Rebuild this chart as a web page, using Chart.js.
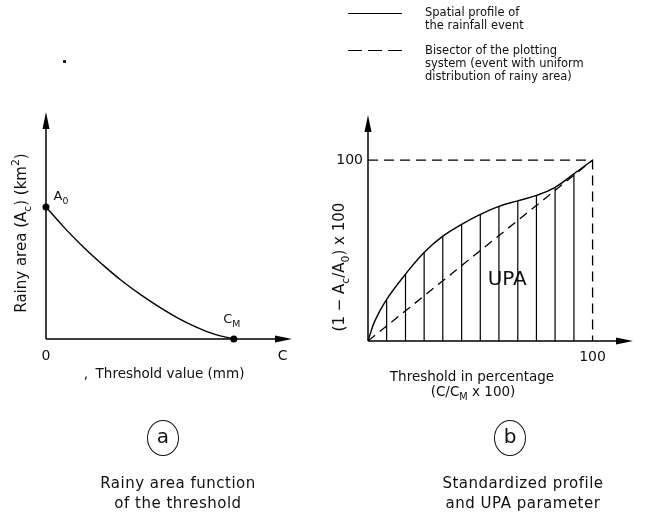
<!DOCTYPE html>
<html>
<head>
<meta charset="utf-8">
<script src="https://cdn.jsdelivr.net/npm/chart.js@4.4.1/dist/chart.umd.min.js"></script>
<style>
body { margin: 0; background: #fff; }
#wrap { position: relative; width: 646px; height: 525px; overflow: hidden; font-family: "DejaVu Sans", sans-serif; color: #111; }
canvas { position: absolute; top: 0; }
#rainy { left: 0; }
#upa { left: 320px; }
.lg { position: absolute; left: 425px; font-size: 11.5px; line-height: 13px; white-space: nowrap; }
.sample { position: absolute; left: 348px; width: 54px; height: 1.4px; }
.circ { position: absolute; width: 30px; height: 34px; border: 1.2px solid #111; border-radius: 50%; text-align: center; font-size: 20px; line-height: 31px; }
.cap { position: absolute; width: 280px; text-align: center; font-size: 15px; line-height: 20px; letter-spacing: 0.5px; }
.dot { position: absolute; width: 3px; height: 3px; background: #222; }
</style>
</head>
<body>
<div id="wrap">
	<canvas id="rainy" width="320" height="525"></canvas>
	<canvas id="upa" width="326" height="525"></canvas>

	<div class="sample" style="top:13px;background:#000"></div>
	<div class="lg" style="top:6px">Spatial profile of<br>the rainfall event</div>
	<div class="sample" style="top:50px;background:repeating-linear-gradient(90deg,#000 0 14px,transparent 14px 20px)"></div>
	<div class="lg" style="top:44px">Bisector of the plotting<br>system (event with uniform<br>distribution of rainy area)</div>

	<div class="dot" style="left:63px;top:60px"></div>

	<div class="circ" style="left:147px;top:420px">a</div>
	<div class="cap" style="left:38px;top:473px">Rainy area function<br>of the threshold</div>
	<div class="circ" style="left:494px;top:420px">b</div>
	<div class="cap" style="left:383px;top:473px">Standardized profile<br>and UPA parameter</div>
</div>
<script>
//data (a) rainy area vs threshold, both in % of A0 / CM
const thresholdC = [0, 10, 20, 30, 40, 50, 60, 70, 80, 90, 100];
const rainyArea = [100, 84, 69.5, 56.5, 44.5, 34, 24.5, 16, 9, 3.5, 0];

//data (b) standardized profile
const pctThreshold = [0, 3, 8.3, 16.7, 25, 33.3, 41.7, 50, 58.3, 66.7, 75, 83.3, 91.7, 100];
const spatialProfile = [0, 11, 23, 37, 49, 58, 64.5, 70, 74.5, 77.5, 80.5, 85, 92.5, 100];
const bisectorX = [0, 100];
const bisectorY = [0, 100];
const boxX = [0, 100, 100];
const boxY = [100, 100, 0];
const hatchFrom = 2; //hatch lines at every 8.3 %
const hatchTo = 12;

const FONT = "DejaVu Sans";

//text with sub / superscripts, centred on x,y
function richText(ctx, parts, x, y, angle, size) {
	ctx.save();
	ctx.translate(x, y);
	ctx.rotate(angle || 0);
	ctx.fillStyle = "#111";
	ctx.textBaseline = "middle";
	ctx.textAlign = "left";
	let w = 0;
	parts.forEach((p) => {
		ctx.font = (p[1] ? size * 0.72 : size) + "px " + FONT;
		w += ctx.measureText(p[0]).width;
	});
	let cx = -w / 2;
	parts.forEach((p) => {
		ctx.font = (p[1] ? size * 0.72 : size) + "px " + FONT;
		const dy = p[1] === "sub" ? size * 0.38 : p[1] === "sup" ? -size * 0.42 : 0;
		ctx.fillText(p[0], cx, dy);
		cx += ctx.measureText(p[0]).width;
	});
	ctx.restore();
}

function drawAxes(chart) {
	const { ctx, chartArea: { left, right, top, bottom } } = chart;
	ctx.save();
	ctx.strokeStyle = "#000";
	ctx.fillStyle = "#000";
	ctx.lineWidth = 1.5;
	ctx.beginPath();
	ctx.moveTo(left, bottom);
	ctx.lineTo(left, top + 8);
	ctx.moveTo(left, bottom);
	ctx.lineTo(right - 8, bottom);
	ctx.stroke();
	ctx.beginPath();
	ctx.moveTo(left, top);
	ctx.lineTo(left - 3.5, top + 17);
	ctx.lineTo(left + 3.5, top + 17);
	ctx.closePath();
	ctx.fill();
	ctx.beginPath();
	ctx.moveTo(right, bottom);
	ctx.lineTo(right - 17, bottom - 3.5);
	ctx.lineTo(right - 17, bottom + 3.5);
	ctx.closePath();
	ctx.fill();
	ctx.restore();
}

//labels plugin (a)
const rainyLabels = {
	id: "rainyLabels",
	afterDatasetsDraw(chart) {
		const { ctx, scales: { x, y } } = chart;
		drawAxes(chart);
		richText(ctx, [["A"], ["0", "sub"]], x.getPixelForValue(0) + 15, y.getPixelForValue(100) - 10, 0, 13);
		richText(ctx, [["C"], ["M", "sub"]], x.getPixelForValue(100) - 2, y.getPixelForValue(0) - 19, 0, 13);
		richText(ctx, [["Rainy area (A"], ["c", "sub"], [") (km"], ["2", "sup"], [")"]], 22, 233, -Math.PI / 2, 15);
		richText(ctx, [["Threshold value (mm)"]], 170, 374, 0, 13.5);
		richText(ctx, [[","]], 86, 374, 0, 13.5);
	},
};

const config_rainy = {
	type: "line",
	data: {
		datasets: [
			{
				data: thresholdC.map((c, i) => ({ x: c, y: rainyArea[i] })),
				borderColor: "#000",
				borderWidth: 1.4,
				tension: 0.4,
				pointRadius: (ctx) => (ctx.dataIndex === 0 || ctx.dataIndex === thresholdC.length - 1 ? 3.5 : 0),
				pointBackgroundColor: "#000",
				pointBorderWidth: 0,
				clip: false,
			},
		],
	},
	options: {
		responsive: false,
		animation: false,
		devicePixelRatio: 1,
		layout: { padding: { left: 46, right: 28, top: 112, bottom: 0 } },
		scales: {
			x: {
				type: "linear",
				min: 0,
				max: 131,
				grid: { display: false, drawTicks: false },
				border: { display: false },
				afterBuildTicks: (s) => {
					s.ticks = [{ value: 0 }, { value: 126 }];
				},
				afterFit: (s) => {
					s.height = 186;
				},
				ticks: {
					autoSkip: false,
					maxRotation: 0,
					padding: 9,
					color: "#111",
					font: { family: FONT, size: 14 },
					callback: (v) => (v === 0 ? "0" : "C"),
				},
			},
			y: { type: "linear", min: 0, max: 172, display: false },
		},
		plugins: { legend: { display: false }, tooltip: { enabled: false } },
	},
	plugins: [rainyLabels],
};

new Chart(document.getElementById("rainy"), config_rainy);

//labels plugin (b)
const upaLabels = {
	id: "upaLabels",
	afterDatasetsDraw(chart) {
		const { ctx, scales: { x, y } } = chart;
		drawAxes(chart);
		richText(ctx, [["UPA"]], x.getPixelForValue(62), y.getPixelForValue(34), 0, 20);
		richText(ctx, [["(1 \u2212 A"], ["c", "sub"], ["/A"], ["0", "sub"], [") x 100"]], 20, 267, -Math.PI / 2, 15);
		richText(ctx, [["Threshold in percentage"]], 152, 377, 0, 13.5);
		richText(ctx, [["(C/C"], ["M", "sub"], [" x 100)"]], 153, 392, 0, 13.5);
	},
};

//hatch: vertical segments from the axis up to the profile
const hatchData = [];
for (let i = hatchFrom; i <= hatchTo; i++) {
	hatchData.push({ x: pctThreshold[i], y: 0 });
	hatchData.push({ x: pctThreshold[i], y: spatialProfile[i] });
	hatchData.push({ x: pctThreshold[i], y: null });
}

const config_upa = {
	type: "line",
	data: {
		datasets: [
			{
				data: pctThreshold.map((c, i) => ({ x: c, y: spatialProfile[i] })),
				borderColor: "#000",
				borderWidth: 1.4,
				tension: 0.4,
				pointRadius: 0,
			},
			{
				data: hatchData,
				borderColor: "#000",
				borderWidth: 1.2,
				pointRadius: 0,
				spanGaps: false,
			},
			{
				data: bisectorX.map((c, i) => ({ x: c, y: bisectorY[i] })),
				borderColor: "#000",
				borderWidth: 1.3,
				borderDash: [9, 6],
				pointRadius: 0,
			},
			{
				data: boxX.map((c, i) => ({ x: c, y: boxY[i] })),
				borderColor: "#000",
				borderWidth: 1.3,
				borderDash: [10, 6],
				pointRadius: 0,
			},
		],
	},
	options: {
		responsive: false,
		animation: false,
		devicePixelRatio: 1,
		layout: { padding: { left: 0, right: 13, top: 115, bottom: 0 } },
		scales: {
			x: {
				type: "linear",
				min: 0,
				max: 118,
				grid: { display: false, drawTicks: false },
				border: { display: false },
				afterBuildTicks: (s) => {
					s.ticks = [{ value: 100 }];
				},
				afterFit: (s) => {
					s.height = 184;
				},
				ticks: { autoSkip: false, maxRotation: 0, padding: 8, color: "#111", font: { family: FONT, size: 14 } },
			},
			y: {
				type: "linear",
				min: 0,
				max: 125,
				grid: { display: false, drawTicks: false },
				border: { display: false },
				afterBuildTicks: (s) => {
					s.ticks = [{ value: 100 }];
				},
				afterFit: (s) => {
					s.width = 48;
				},
				ticks: { padding: 5, color: "#111", font: { family: FONT, size: 14 } },
			},
		},
		plugins: { legend: { display: false }, tooltip: { enabled: false } },
	},
	plugins: [upaLabels],
};

new Chart(document.getElementById("upa"), config_upa);
</script>
</body>
</html>
